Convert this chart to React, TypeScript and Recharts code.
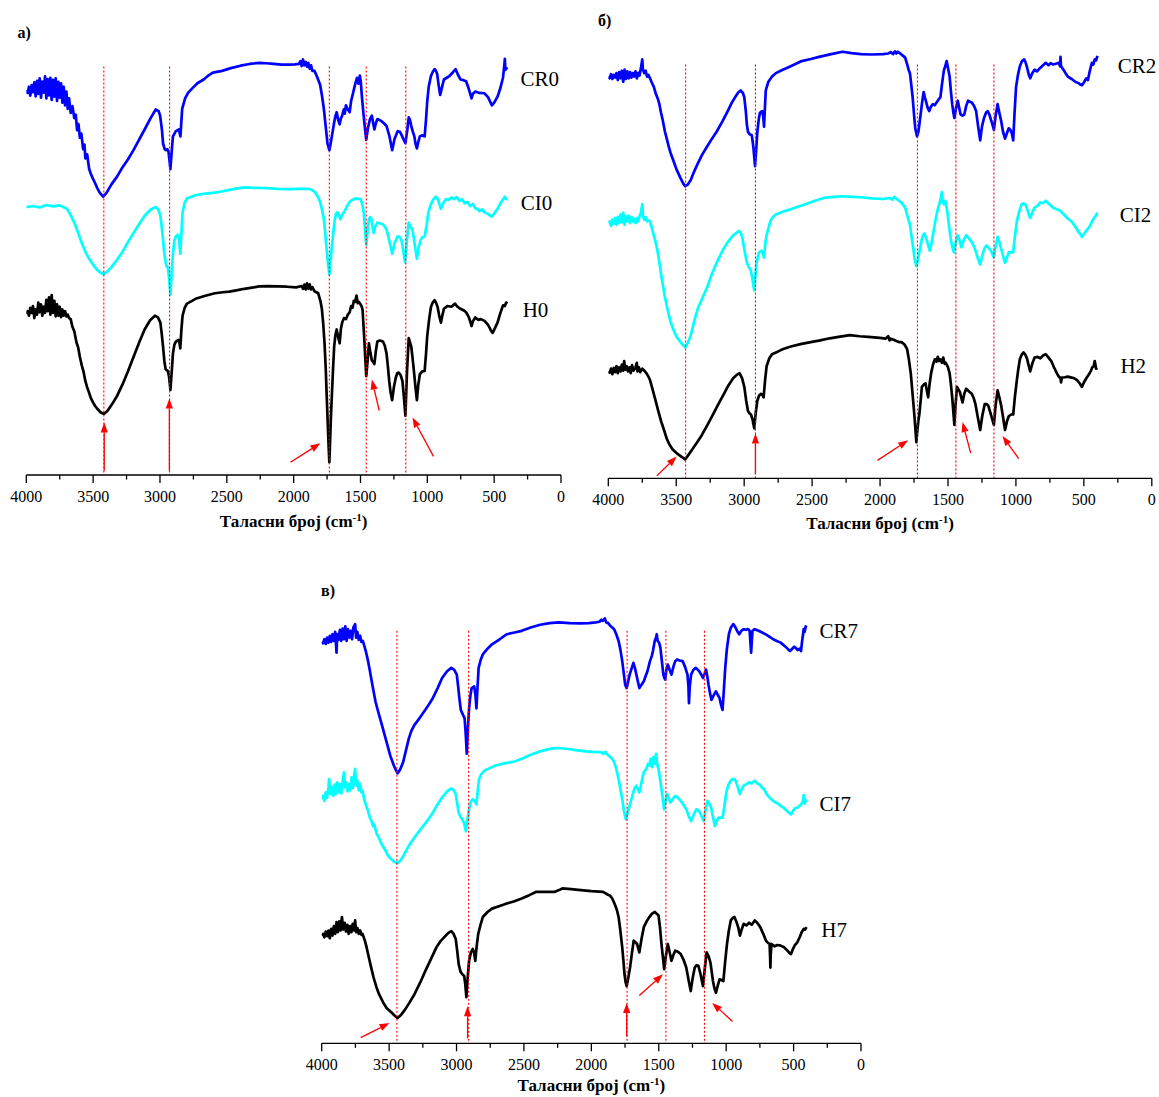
import React from 'react';
import { LineChart, Line, XAxis, YAxis, ReferenceLine, ReferenceDot } from 'recharts';

// ---------- data: [wavenumber (cm-1), transmittance (a.u., offset)] ----------
const CR0: [number, number][] = [
[4000,1117],[3990,1108],[3980,1126],[3970,1100],[3960,1131],[3950,1110],[3940,1139],[3930,1098],[3920,1143],[3910,1105],[3900,1150],[3890,1094],[3880,1141],[3870,1109],[3860,1156],[3850,1092],[3840,1148],[3830,1101],[3820,1152],[3810,1088],[3800,1146],[3790,1097],[3780,1150],[3770,1085],[3760,1140],[3750,1094],[3740,1136],[3730,1080],[3720,1126],[3710,1072],[3700,1112],[3690,1062],[3680,1092],[3668,1050],[3655,1070],[3641,1035],[3630,1045],[3620,1000],[3610,1018],[3599,978],[3588,990],[3575,945],[3565,958],[3558,918],[3545,930],[3530,888],[3516,872],[3500,858],[3485,846],[3469,832],[3450,818],[3425,807],[3400,818],[3364,842],[3320,866],[3281,892],[3240,915],[3198,942],[3160,970],[3115,1002],[3070,1035],[3032,1060],[3010,1055],[2999,1042],[2985,1000],[2977,962],[2965,945],[2958,942],[2945,945],[2936,937],[2922,887],[2912,940],[2903,982],[2881,997],[2859,1002],[2847,982],[2834,1062],[2812,1092],[2790,1108],[2757,1122],[2720,1136],[2673,1147],[2640,1158],[2604,1167],[2535,1172],[2470,1180],[2397,1187],[2330,1192],[2259,1195],[2203,1194],[2150,1192],[2093,1190],[2040,1190],[1990,1191],[1960,1192],[1950,1200],[1940,1186],[1930,1205],[1920,1188],[1910,1198],[1900,1184],[1890,1195],[1880,1178],[1870,1188],[1860,1172],[1844,1172],[1825,1155],[1802,1132],[1788,1100],[1774,1062],[1760,1010],[1747,962],[1733,942],[1724,960],[1714,982],[1697,1022],[1688,1040],[1678,1052],[1667,1030],[1656,1017],[1646,1035],[1637,1042],[1625,1060],[1618,1048],[1609,1072],[1595,1060],[1581,1052],[1570,1085],[1560,1100],[1553,1112],[1545,1125],[1535,1140],[1526,1152],[1515,1135],[1505,1158],[1498,1142],[1490,1100],[1479,1052],[1468,1010],[1457,972],[1445,1005],[1429,1032],[1415,1042],[1405,1020],[1396,1002],[1385,1020],[1374,1032],[1360,1030],[1346,1027],[1325,1020],[1305,1012],[1285,985],[1263,942],[1245,975],[1222,997],[1205,995],[1194,987],[1180,975],[1164,962],[1150,1000],[1139,1037],[1130,1030],[1120,1012],[1108,995],[1097,982],[1088,960],[1078,947],[1068,965],[1056,982],[1040,985],[1020,982],[1010,1030],[1001,1082],[990,1125],[973,1157],[958,1170],[945,1177],[935,1172],[926,1162],[915,1130],[904,1102],[890,1125],[876,1147],[855,1152],[835,1157],[815,1165],[800,1172],[788,1177],[770,1160],[752,1147],[730,1145],[710,1142],[690,1120],[675,1100],[669,1092],[660,1105],[641,1112],[610,1108],[572,1107],[545,1095],[517,1072],[500,1080],[475,1097],[455,1120],[434,1152],[425,1185],[420,1207],[416,1175],[410,1180],[400,1177]
];
const CI0: [number, number][] = [
[4000,777],[3950,780],[3900,776],[3850,783],[3800,779],[3750,782],[3720,776],[3696,772],[3670,755],[3641,732],[3610,700],[3585,672],[3555,645],[3530,627],[3500,610],[3475,597],[3450,588],[3420,582],[3395,590],[3364,602],[3320,625],[3281,647],[3240,675],[3198,702],[3155,728],[3115,752],[3070,770],[3032,777],[3012,770],[2997,752],[2987,720],[2977,682],[2968,645],[2958,617],[2950,605],[2941,602],[2932,570],[2922,522],[2913,580],[2903,642],[2892,680],[2881,692],[2867,697],[2857,680],[2848,642],[2840,700],[2831,762],[2815,790],[2798,802],[2760,808],[2728,812],[2660,816],[2590,819],[2530,823],[2480,827],[2420,831],[2369,834],[2300,833],[2203,832],[2120,830],[2037,829],[1960,830],[1899,830],[1870,828],[1844,822],[1820,808],[1802,792],[1788,770],[1774,742],[1765,705],[1755,662],[1745,620],[1733,582],[1724,620],[1714,662],[1703,705],[1692,742],[1682,758],[1672,762],[1660,752],[1650,742],[1637,755],[1623,762],[1600,780],[1581,792],[1560,798],[1540,802],[1520,801],[1498,800],[1487,785],[1476,762],[1466,715],[1457,667],[1447,705],[1437,742],[1428,748],[1421,747],[1412,725],[1402,702],[1390,720],[1374,732],[1355,730],[1332,727],[1318,720],[1305,712],[1285,680],[1263,642],[1245,672],[1222,692],[1208,690],[1194,682],[1180,650],[1167,617],[1153,680],[1139,732],[1125,720],[1111,712],[1095,670],[1078,627],[1065,660],[1050,682],[1035,690],[1020,692],[1005,725],[992,762],[978,780],[965,792],[950,802],[937,807],[928,803],[918,797],[908,783],[898,772],[888,782],[876,792],[860,800],[840,798],[820,805],[800,800],[780,806],[760,795],[740,800],[720,788],[700,792],[680,780],[660,786],[640,773],[627,772],[610,765],[590,770],[572,762],[550,758],[530,752],[517,750],[500,758],[475,772],[450,790],[435,798],[420,807],[410,800],[401,802]
];
const H0: [number, number][] = [
[4000,467],[3990,475],[3980,462],[3970,485],[3960,470],[3950,490],[3940,455],[3930,480],[3920,465],[3910,500],[3900,472],[3890,495],[3880,462],[3870,488],[3860,470],[3850,508],[3840,475],[3830,515],[3820,465],[3810,522],[3800,470],[3790,505],[3780,460],[3770,495],[3760,462],[3750,488],[3740,458],[3730,480],[3720,462],[3710,475],[3700,460],[3690,465],[3680,455],[3668,452],[3655,430],[3641,417],[3625,385],[3612,370],[3599,342],[3585,318],[3572,300],[3558,272],[3545,255],[3530,238],[3516,222],[3500,210],[3485,200],[3469,192],[3445,182],[3420,177],[3395,185],[3364,202],[3320,230],[3281,262],[3240,300],[3198,342],[3155,385],[3115,422],[3075,448],[3038,462],[3015,457],[2997,442],[2987,410],[2977,372],[2967,330],[2958,307],[2950,304],[2941,302],[2932,285],[2922,247],[2912,300],[2903,352],[2892,378],[2881,387],[2862,392],[2855,385],[2848,367],[2840,420],[2831,462],[2815,485],[2798,497],[2760,505],[2728,512],[2660,520],[2590,527],[2530,530],[2480,532],[2420,536],[2369,540],[2300,544],[2259,547],[2190,548],[2120,547],[2050,546],[1982,544],[1940,548],[1930,540],[1920,552],[1910,538],[1900,556],[1890,540],[1880,553],[1871,538],[1860,545],[1845,533],[1830,530],[1816,527],[1800,505],[1789,482],[1779,440],[1769,382],[1760,310],[1753,232],[1745,150],[1738,80],[1733,37],[1728,90],[1722,160],[1714,232],[1705,310],[1697,372],[1688,405],[1678,422],[1667,400],[1656,382],[1646,425],[1637,442],[1623,455],[1609,452],[1595,465],[1581,472],[1570,490],[1560,485],[1550,505],[1540,502],[1530,520],[1520,498],[1512,502],[1500,495],[1490,488],[1484,477],[1477,430],[1470,382],[1463,330],[1457,287],[1447,330],[1437,382],[1426,355],[1415,332],[1405,328],[1396,322],[1385,360],[1374,387],[1355,390],[1332,387],[1318,375],[1305,352],[1295,315],[1285,272],[1275,240],[1263,217],[1250,255],[1236,282],[1225,295],[1214,297],[1200,290],[1186,272],[1175,225],[1164,172],[1152,300],[1139,397],[1130,385],[1120,372],[1112,345],[1103,312],[1090,260],[1078,217],[1068,260],[1056,292],[1040,300],[1020,302],[1010,350],[1001,402],[987,450],[973,487],[960,500],[945,507],[935,500],[923,487],[910,460],[898,442],[888,462],[876,482],[850,490],[820,488],[793,497],[775,488],[752,482],[730,478],[710,472],[690,458],[675,440],[669,432],[660,445],[641,457],[620,450],[600,452],[572,447],[545,435],[525,420],[511,412],[495,425],[475,442],[455,468],[434,492],[420,490],[410,500],[401,497]
];

const CR2: [number, number][] = [
[4000,1165],[3990,1160],[3980,1172],[3970,1158],[3960,1170],[3950,1162],[3940,1175],[3930,1155],[3920,1178],[3910,1160],[3900,1182],[3890,1150],[3880,1185],[3870,1158],[3860,1180],[3850,1160],[3840,1178],[3830,1162],[3820,1175],[3810,1165],[3800,1180],[3790,1160],[3780,1176],[3770,1168],[3760,1190],[3750,1215],[3745,1185],[3735,1175],[3725,1182],[3715,1165],[3705,1170],[3693,1160],[3680,1148],[3665,1135],[3650,1115],[3635,1100],[3624,1085],[3612,1060],[3600,1040],[3583,1005],[3570,985],[3555,962],[3543,945],[3520,920],[3497,895],[3470,872],[3450,856],[3434,847],[3415,852],[3393,865],[3370,888],[3339,915],[3310,938],[3284,955],[3245,980],[3203,1005],[3160,1035],[3121,1065],[3090,1090],[3067,1105],[3045,1118],[3026,1125],[3010,1118],[2999,1105],[2988,1065],[2980,1025],[2972,1005],[2960,998],[2944,995],[2932,960],[2920,905],[2912,950],[2903,1005],[2893,1040],[2884,1060],[2868,1065],[2860,1050],[2854,1020],[2848,1070],[2841,1125],[2822,1150],[2795,1165],[2767,1175],[2720,1184],[2686,1190],[2630,1200],[2577,1210],[2510,1216],[2441,1223],[2360,1230],[2277,1237],[2210,1233],[2141,1230],[2060,1229],[1978,1230],[1940,1232],[1920,1236],[1905,1230],[1890,1238],[1880,1232],[1869,1237],[1845,1230],[1830,1225],[1815,1220],[1800,1200],[1790,1185],[1780,1175],[1770,1140],[1760,1105],[1750,1055],[1741,1015],[1728,992],[1718,1005],[1711,1025],[1700,1060],[1692,1085],[1685,1105],[1679,1120],[1670,1105],[1660,1090],[1650,1075],[1638,1065],[1625,1078],[1611,1085],[1598,1082],[1584,1090],[1570,1098],[1556,1105],[1545,1140],[1535,1170],[1529,1185],[1520,1195],[1510,1210],[1500,1190],[1488,1165],[1478,1120],[1469,1085],[1460,1060],[1453,1045],[1440,1075],[1428,1095],[1418,1075],[1407,1055],[1393,1052],[1380,1055],[1366,1080],[1352,1095],[1338,1092],[1325,1090],[1308,1080],[1293,1065],[1278,1020],[1263,980],[1250,1020],[1235,1045],[1220,1060],[1208,1065],[1195,1055],[1184,1040],[1172,1025],[1162,1010],[1150,1050],[1135,1085],[1122,1060],[1108,1035],[1095,1005],[1080,985],[1067,1000],[1053,1015],[1040,1010],[1030,1000],[1020,980],[1010,1060],[999,1135],[985,1170],[971,1195],[955,1210],[939,1215],[928,1205],[917,1190],[905,1170],[895,1160],[880,1175],[863,1185],[845,1180],[822,1190],[800,1198],[781,1205],[760,1198],[745,1204],[727,1200],[700,1203],[685,1205],[675,1195],[672,1222],[668,1195],[650,1185],[635,1175],[618,1165],[590,1158],[563,1150],[540,1146],[525,1142],[514,1140],[500,1148],[482,1160],[470,1155],[460,1175],[441,1205],[430,1200],[420,1215],[410,1212],[400,1225]
];
const CI2: [number, number][] = [
[4000,740],[3990,745],[3980,732],[3970,750],[3960,738],[3950,755],[3940,735],[3930,758],[3920,740],[3910,765],[3900,742],[3890,770],[3880,735],[3870,760],[3860,745],[3850,762],[3840,740],[3830,758],[3820,745],[3810,752],[3800,740],[3790,755],[3780,745],[3770,760],[3760,770],[3750,795],[3745,760],[3735,750],[3725,758],[3715,745],[3705,748],[3693,745],[3672,715],[3652,685],[3638,660],[3624,625],[3605,575],[3583,525],[3563,488],[3543,455],[3520,430],[3497,410],[3465,393],[3434,380],[3415,392],[3393,415],[3365,460],[3339,495],[3305,525],[3271,555],[3240,590],[3203,625],[3160,660],[3121,685],[3080,705],[3040,717],[3025,712],[3012,695],[2995,655],[2980,625],[2965,612],[2953,605],[2940,580],[2926,545],[2917,590],[2909,625],[2898,645],[2890,655],[2871,660],[2862,650],[2854,640],[2845,680],[2835,705],[2808,745],[2790,757],[2767,765],[2710,774],[2659,780],[2600,788],[2550,795],[2480,805],[2414,813],[2340,816],[2277,818],[2200,816],[2141,815],[2060,812],[1978,810],[1930,813],[1910,808],[1895,816],[1883,812],[1860,805],[1840,798],[1815,785],[1798,760],[1780,735],[1768,700],[1755,665],[1745,635],[1733,615],[1722,632],[1711,655],[1700,678],[1692,695],[1683,705],[1673,710],[1662,698],[1652,685],[1642,670],[1633,660],[1622,680],[1611,705],[1598,735],[1584,765],[1570,788],[1560,800],[1552,815],[1545,830],[1538,800],[1529,795],[1520,805],[1510,785],[1502,765],[1492,730],[1480,695],[1468,670],[1456,655],[1442,685],[1428,705],[1415,690],[1401,670],[1385,690],[1366,705],[1345,695],[1325,685],[1308,672],[1293,655],[1278,635],[1263,620],[1245,650],[1230,668],[1216,675],[1200,668],[1184,660],[1172,650],[1162,640],[1150,672],[1135,700],[1122,685],[1108,665],[1095,645],[1080,625],[1066,640],[1053,655],[1035,656],[1020,655],[1008,700],[993,745],[975,775],[958,795],[945,797],[931,795],[915,778],[905,765],[895,755],[880,770],[863,785],[840,790],[820,800],[800,798],[781,805],[760,797],[745,792],[727,785],[700,780],[672,775],[640,762],[615,752],[590,745],[560,728],[540,715],[525,708],[514,700],[500,708],[483,718],[468,725],[455,732],[440,745],[425,755],[412,762],[400,770]
];
const H2: [number, number][] = [
[4000,310],[3990,306],[3980,318],[3970,302],[3960,320],[3950,308],[3940,325],[3930,305],[3920,322],[3910,310],[3900,330],[3890,312],[3883,340],[3875,315],[3865,325],[3855,310],[3845,322],[3835,305],[3825,328],[3815,312],[3801,320],[3790,335],[3785,310],[3775,322],[3765,308],[3750,318],[3735,312],[3720,305],[3706,296],[3693,285],[3672,255],[3652,225],[3632,195],[3611,165],[3590,140],[3570,115],[3550,98],[3529,85],[3510,78],[3488,70],[3460,62],[3434,55],[3410,68],[3380,85],[3345,105],[3312,125],[3270,155],[3230,185],[3190,215],[3149,245],[3115,270],[3081,290],[3055,300],[3034,305],[3015,290],[2999,265],[2985,225],[2972,195],[2960,188],[2950,185],[2938,170],[2926,145],[2915,190],[2903,225],[2890,240],[2876,245],[2866,242],[2857,235],[2846,285],[2835,325],[2815,348],[2795,360],[2750,368],[2713,375],[2650,383],[2577,390],[2510,395],[2441,400],[2370,406],[2305,410],[2223,415],[2150,412],[2087,410],[2000,407],[1960,405],[1940,412],[1930,400],[1924,405],[1900,402],[1880,398],[1860,395],[1842,395],[1820,388],[1801,375],[1788,345],[1774,305],[1763,255],[1752,205],[1742,155],[1733,105],[1725,140],[1717,170],[1711,185],[1700,230],[1692,265],[1678,272],[1665,275],[1656,255],[1646,235],[1635,275],[1624,305],[1610,330],[1597,345],[1585,338],[1575,352],[1565,340],[1556,345],[1545,335],[1535,350],[1525,332],[1516,335],[1500,322],[1488,305],[1478,270],[1469,235],[1461,195],[1453,155],[1445,210],[1434,265],[1423,258],[1412,250],[1403,235],[1393,220],[1380,245],[1366,260],[1345,252],[1325,245],[1310,232],[1298,215],[1282,180],[1263,140],[1248,180],[1230,215],[1215,215],[1203,210],[1194,198],[1184,185],[1172,168],[1162,155],[1150,210],[1135,255],[1122,235],[1108,210],[1095,178],[1080,140],[1066,165],[1053,180],[1035,185],[1020,185],[1008,235],[993,285],[982,318],[971,345],[958,358],[944,365],[930,358],[917,345],[905,325],[895,310],[880,332],[863,350],[840,352],[820,348],[800,356],[781,360],[760,350],[740,340],[720,322],[699,305],[685,295],[672,290],[668,278],[662,292],[640,293],[618,295],[590,292],[570,290],[550,285],[530,275],[514,265],[500,278],[482,290],[465,300],[450,310],[438,322],[427,325],[420,340],[410,318],[400,320]
];

const CR7: [number, number][] = [
[4000,1193],[3990,1188],[3980,1200],[3970,1186],[3960,1205],[3950,1190],[3940,1210],[3930,1192],[3920,1215],[3910,1195],[3900,1222],[3890,1160],[3885,1215],[3875,1198],[3865,1228],[3855,1195],[3845,1232],[3835,1200],[3825,1238],[3815,1195],[3805,1230],[3795,1205],[3785,1225],[3775,1200],[3765,1235],[3752,1245],[3745,1205],[3735,1222],[3725,1198],[3715,1210],[3705,1192],[3695,1195],[3684,1180],[3670,1160],[3656,1135],[3642,1105],[3629,1075],[3615,1045],[3601,1015],[3588,995],[3574,975],[3553,945],[3533,915],[3512,885],[3492,855],[3465,825],[3450,812],[3437,802],[3420,812],[3396,835],[3375,870],[3354,905],[3335,928],[3313,945],[3285,960],[3258,975],[3215,1000],[3176,1025],[3140,1055],[3107,1085],[3070,1105],[3039,1115],[3018,1110],[2998,1095],[2988,1060],[2979,1025],[2968,990],[2957,980],[2948,972],[2940,965],[2932,920],[2924,860],[2916,930],[2907,995],[2898,1030],[2888,1055],[2869,1060],[2860,1035],[2852,995],[2844,1060],[2836,1115],[2820,1140],[2805,1155],[2770,1172],[2737,1185],[2680,1200],[2627,1215],[2570,1220],[2517,1225],[2450,1235],[2380,1243],[2310,1248],[2243,1250],[2160,1248],[2078,1247],[2020,1248],[1968,1250],[1940,1252],[1925,1258],[1913,1255],[1900,1262],[1890,1250],[1875,1248],[1860,1240],[1845,1235],[1831,1230],[1815,1215],[1798,1195],[1785,1170],[1771,1135],[1760,1100],[1749,1065],[1738,1055],[1727,1075],[1716,1095],[1700,1115],[1688,1130],[1677,1115],[1666,1095],[1655,1075],[1644,1055],[1628,1065],[1611,1075],[1598,1090],[1584,1105],[1565,1135],[1552,1150],[1543,1165],[1530,1195],[1520,1205],[1515,1215],[1508,1195],[1498,1190],[1488,1175],[1477,1135],[1466,1095],[1458,1085],[1452,1080],[1443,1110],[1433,1125],[1420,1110],[1406,1095],[1390,1120],[1378,1135],[1364,1140],[1345,1137],[1323,1135],[1305,1118],[1287,1095],[1280,1060],[1276,1010],[1270,1060],[1260,1095],[1245,1108],[1227,1115],[1212,1110],[1200,1105],[1185,1095],[1172,1085],[1160,1098],[1150,1110],[1140,1090],[1131,1065],[1120,1040],[1109,1020],[1095,1032],[1076,1045],[1062,1035],[1049,1025],[1038,1005],[1027,990],[1017,1050],[1007,1115],[995,1170],[980,1215],[965,1235],[947,1245],[935,1238],[925,1230],[912,1220],[903,1215],[888,1225],[870,1230],[855,1228],[837,1230],[826,1225],[820,1190],[815,1160],[810,1195],[805,1225],[788,1230],[760,1225],[733,1220],[700,1213],[680,1208],[651,1200],[625,1195],[596,1190],[560,1178],[540,1170],[527,1165],[510,1172],[495,1178],[486,1175],[470,1168],[455,1172],[445,1165],[438,1190],[430,1215],[425,1230],[418,1222],[410,1238],[404,1235]
];
const CI7: [number, number][] = [
[4000,725],[3990,735],[3980,720],[3970,745],[3960,728],[3950,760],[3945,785],[3935,740],[3925,762],[3915,735],[3905,768],[3895,740],[3885,775],[3875,745],[3865,770],[3855,742],[3845,778],[3835,805],[3828,760],[3818,775],[3808,748],[3798,770],[3788,752],[3778,790],[3768,758],[3760,795],[3752,815],[3745,765],[3735,780],[3725,752],[3715,770],[3705,745],[3697,750],[3685,725],[3670,705],[3656,690],[3643,670],[3630,660],[3620,645],[3610,650],[3601,635],[3590,620],[3575,610],[3560,595],[3546,585],[3530,575],[3515,562],[3492,550],[3465,540],[3437,535],[3418,542],[3396,555],[3370,575],[3341,595],[3300,618],[3258,640],[3215,662],[3176,685],[3140,710],[3107,730],[3070,748],[3039,757],[3022,752],[3006,740],[2995,712],[2984,685],[2970,672],[2957,665],[2945,655],[2930,630],[2918,668],[2907,695],[2893,718],[2880,725],[2866,720],[2852,710],[2843,750],[2833,785],[2815,800],[2792,810],[2750,818],[2710,825],[2640,832],[2572,837],[2515,845],[2462,855],[2410,863],[2353,870],[2300,875],[2243,877],[2170,874],[2105,870],[2040,867],[1968,865],[1930,865],[1910,860],[1895,866],[1886,860],[1860,850],[1845,845],[1831,835],[1815,815],[1798,785],[1785,755],[1771,725],[1758,690],[1744,665],[1730,685],[1716,705],[1700,730],[1686,750],[1676,760],[1666,765],[1655,755],[1644,745],[1628,775],[1611,805],[1592,815],[1580,830],[1570,825],[1560,845],[1550,820],[1540,850],[1529,830],[1520,860],[1510,825],[1502,815],[1492,790],[1480,755],[1470,725],[1460,695],[1450,720],[1438,740],[1426,728],[1414,715],[1398,725],[1378,735],[1358,730],[1337,720],[1316,708],[1296,695],[1278,675],[1260,660],[1240,680],[1221,695],[1206,692],[1194,685],[1180,672],[1167,660],[1152,695],[1139,720],[1126,712],[1112,700],[1098,672],[1084,645],[1070,660],[1057,670],[1040,670],[1027,670],[1013,705],[999,745],[983,768],[966,780],[952,785],[939,785],[928,778],[917,765],[908,752],[898,740],[885,755],[870,765],[850,770],[830,775],[810,772],[788,780],[770,772],[750,768],[735,760],[719,755],[700,740],[680,730],[665,725],[651,720],[635,715],[615,712],[596,705],[575,700],[555,692],[535,685],[519,680],[505,690],[490,698],[472,700],[455,705],[440,712],[430,720],[425,737],[418,712],[410,722],[404,715]
];
const H7: [number, number][] = [
[4000,320],[3990,325],[3980,315],[3970,332],[3960,318],[3950,335],[3940,312],[3930,340],[3920,320],[3910,348],[3900,325],[3890,360],[3880,330],[3870,362],[3860,335],[3850,375],[3840,338],[3830,358],[3820,332],[3810,352],[3800,325],[3790,348],[3780,330],[3770,355],[3760,335],[3752,365],[3745,330],[3735,342],[3725,325],[3715,335],[3705,322],[3697,325],[3680,305],[3670,290],[3656,265],[3636,230],[3615,195],[3595,168],[3574,145],[3545,122],[3519,105],[3498,97],[3478,90],[3458,82],[3437,75],[3410,85],[3382,100],[3350,120],[3313,145],[3270,180],[3231,215],[3190,250],[3149,285],[3115,305],[3080,320],[3060,328],[3039,333],[3022,325],[3006,310],[2995,275],[2984,235],[2970,212],[2957,205],[2943,200],[2935,175],[2927,137],[2917,195],[2907,245],[2893,270],[2880,280],[2870,270],[2861,245],[2850,290],[2839,325],[2820,355],[2805,375],[2770,390],[2737,400],[2680,408],[2627,415],[2570,422],[2517,430],[2460,440],[2408,450],[2340,450],[2270,450],[2240,455],[2215,460],[2150,458],[2078,455],[2000,452],[1913,450],[1880,442],[1860,438],[1845,430],[1825,412],[1810,395],[1798,375],[1785,335],[1771,285],[1762,245],[1754,205],[1745,180],[1738,170],[1726,195],[1713,225],[1700,265],[1686,305],[1673,300],[1661,295],[1652,282],[1644,270],[1628,310],[1611,345],[1590,362],[1570,375],[1550,385],[1529,390],[1515,385],[1502,380],[1491,345],[1480,295],[1470,258],[1460,220],[1447,260],[1433,295],[1420,272],[1406,245],[1392,262],[1378,275],[1358,272],[1337,265],[1316,248],[1296,225],[1280,190],[1263,155],[1248,195],[1233,225],[1220,232],[1206,230],[1190,205],[1180,185],[1172,170],[1158,225],[1145,270],[1130,258],[1117,240],[1108,215],[1098,185],[1088,165],[1076,150],[1062,172],[1049,190],[1035,188],[1021,185],[1008,240],[994,295],[980,335],[966,365],[952,372],[939,375],[925,362],[911,345],[898,320],[885,338],[870,355],[850,350],[830,358],[810,352],[788,365],[770,358],[747,345],[725,325],[705,305],[690,298],[678,295],[674,255],[672,225],[670,260],[664,295],[640,288],[620,292],[596,290],[570,285],[545,275],[530,268],[519,265],[505,280],[490,292],[472,300],[455,315],[440,330],[425,340],[415,338],[404,345]
];

// band positions (cm-1) marked with dotted lines
const BANDS_A = [3420, 2928, 1733, 1457, 1161];
const BANDS_B = [3431, 2917, 1725, 1442, 1162];
const BANDS_C = [3442, 2910, 1735, 1447, 1161];

// arrows: [tail wn, tail T, head wn, head T]
const ARROWS_A: [number, number, number, number][] = [
  [3417, 12, 3417, 152], [2930, 12, 2930, 222], [2024, 37, 1800, 92], [1360, 187, 1415, 277], [954, 54, 1111, 167],
];
const ARROWS_B: [number, number, number, number][] = [
  [3643, 7, 3497, 63], [2917, 13, 2917, 130], [2019, 52, 1793, 110], [1333, 73, 1393, 163], [980, 57, 1099, 123],
];
const ARROWS_C: [number, number, number, number][] = [
  [3711, 17, 3497, 60], [2918, 15, 2918, 110], [1738, 20, 1738, 120], [1644, 142, 1469, 205], [953, 65, 1104, 120],
];

const X_TICKS = [0, 250, 500, 750, 1000, 1250, 1500, 1750, 2000, 2250, 2500, 2750, 3000, 3250, 3500, 3750, 4000];
const TITLE = 'Таласни број (cm';

const FONT = '"Liberation Serif", "Times New Roman", serif';
const BLUE = '#0000ff';
const CYAN = '#00ffff';
const BLACK = '#000000';
const RED = '#ff0000';

type Series = { name: string; data: [number, number][]; color: string; labelWn: number; labelT: number };

type Panel = {
  letter: string;
  left: number; top: number; width: number; height: number;
  margin: { top: number; right: number; bottom: number; left: number };
  axisH: number; yMax: number; titleOffset: number;
  series: Series[];
  bands: number[]; bandTop: number;
  arrows: [number, number, number, number][];
};

const PANELS: Panel[] = [
  {
    letter: 'a', left: 0, top: 0, width: 600, height: 540,
    margin: { top: 35, right: 39, bottom: 5, left: 26.3 }, axisH: 60, yMax: 1276, titleOffset: 52,
    series: [
      { name: 'CR0', data: CR0, color: BLUE, labelWn: 303, labelT: 1128 },
      { name: 'CI0', data: CI0, color: CYAN, labelWn: 301, labelT: 769 },
      { name: 'H0', data: H0, color: BLACK, labelWn: 287, labelT: 459 },
    ],
    bands: BANDS_A, bandTop: 1185, arrows: ARROWS_A,
  },
  {
    letter: 'b', left: 580, top: 0, width: 579, height: 540,
    margin: { top: 35, right: 7.2, bottom: 6.7, left: 28.3 }, axisH: 55, yMax: 1285.6, titleOffset: 51,
    series: [
      { name: 'CR2', data: CR2, color: BLUE, labelWn: 250, labelT: 1174 },
      { name: 'CI2', data: CI2, color: CYAN, labelWn: 236, labelT: 744 },
      { name: 'H2', data: H2, color: BLACK, labelWn: 231, labelT: 306 },
    ],
    bands: BANDS_B, bandTop: 1200, arrows: ARROWS_B,
  },
  {
    letter: 'c', left: 300, top: 570, width: 580, height: 527,
    margin: { top: 30, right: 19, bottom: 3.7, left: 21.7 }, axisH: 50, yMax: 1316.6, titleOffset: 48,
    series: [
      { name: 'CR7', data: CR7, color: BLUE, labelWn: 308, labelT: 1204 },
      { name: 'CI7', data: CI7, color: CYAN, labelWn: 308, labelT: 691 },
      { name: 'H7', data: H7, color: BLACK, labelWn: 294, labelT: 317 },
    ],
    bands: BANDS_C, bandTop: 1225, arrows: ARROWS_C,
  },
];

const toPoints = (arr: [number, number][]) => arr.map(([wn, t]) => ({ wn, t }));

const AxisTick = (props: any) => {
  const { x, y, payload } = props;
  const major = payload.value % 500 === 0;
  return (
    <g>
      <line x1={x} x2={x} y1={y} y2={y + (major ? 8 : 4.5)} stroke="#000" strokeWidth={1.3} />
      {major && (
        <text x={x} y={y + 27} textAnchor="middle" fontFamily={FONT} fontSize={16} fill="#000">
          {payload.value}
        </text>
      )}
    </g>
  );
};

const makeTitle = (offset: number) => (props: any) => {
  const vb = props.viewBox || {};
  const cx = vb.x + vb.width / 2;
  const y = vb.y + offset;
  return (
    <text x={cx} y={y} textAnchor="middle" fontFamily={FONT} fontWeight="bold" fontSize={17} fill="#000">
      {TITLE}
      <tspan dy={-6} fontSize={11}>-1</tspan>
      <tspan dy={6}>)</tspan>
    </text>
  );
};

const ArrowShape = (props: any) => {
  const { x1, y1, x2, y2 } = props;
  if ([x1, y1, x2, y2].some((v) => typeof v !== 'number' || isNaN(v))) return <g />;
  const dx = x2 - x1;
  const dy = y2 - y1;
  const len = Math.sqrt(dx * dx + dy * dy) || 1;
  const ux = dx / len;
  const uy = dy / len;
  const hl = 10;
  const hw = 3.6;
  const bx = x2 - ux * hl;
  const by = y2 - uy * hl;
  const pts = `${x2},${y2} ${bx - uy * hw},${by + ux * hw} ${bx + uy * hw},${by - ux * hw}`;
  return (
    <g>
      <line x1={x1} y1={y1} x2={bx} y2={by} stroke={RED} strokeWidth={1.3} />
      <polygon points={pts} fill={RED} stroke="none" />
    </g>
  );
};

const makeLabel = (text: string) => (props: any) => (
  <text x={props.cx} y={props.cy} fontFamily={FONT} fontSize={21} fill="#000">
    {text}
  </text>
);

const PanelChart = ({ p }: { p: Panel }) => (
  <div style={{ position: 'absolute', left: p.left, top: p.top, width: p.width, height: p.height }}>
    <LineChart width={p.width} height={p.height} margin={p.margin}>
      <XAxis
        type="number"
        dataKey="wn"
        domain={[0, 4000]}
        reversed
        allowDataOverflow
        ticks={X_TICKS}
        interval={0}
        tickSize={0}
        tickMargin={0}
        tickLine={false}
        tick={(tp: any) => <AxisTick {...tp} />}
        axisLine={{ stroke: '#000', strokeWidth: 1.3 }}
        height={p.axisH}
        label={makeTitle(p.titleOffset)}
      />
      <YAxis hide type="number" dataKey="t" domain={[0, p.yMax]} allowDataOverflow />
      {p.series.map((s) => (
        <Line
          key={s.name}
          data={toPoints(s.data)}
          dataKey="t"
          type="linear"
          stroke={s.color}
          strokeWidth={2.7}
          strokeLinejoin="round"
          dot={false}
          activeDot={false}
          isAnimationActive={false}
        />
      ))}
      {p.bands.map((b) => (
        <ReferenceLine
          key={'band' + b}
          segment={[{ x: b, y: p.bandTop }, { x: b, y: 0 }]}
          stroke={RED}
          strokeWidth={1.1}
          strokeDasharray="2 2"
          ifOverflow="visible"
        />
      ))}
      {p.arrows.map((a, i) => (
        <ReferenceLine
          key={'arrow' + i}
          segment={[{ x: a[0], y: a[1] }, { x: a[2], y: a[3] }]}
          shape={ArrowShape}
          ifOverflow="visible"
        />
      ))}
      {p.series.map((s) => (
        <ReferenceDot
          key={'lbl' + s.name}
          x={s.labelWn}
          y={s.labelT}
          r={1}
          ifOverflow="visible"
          shape={makeLabel(s.name)}
        />
      ))}
    </LineChart>
  </div>
);

const PANEL_LETTERS = [
  { text: 'а)', x: 17.5, y: 38 },
  { text: 'б)', x: 598, y: 26 },
  { text: 'в)', x: 321, y: 596 },
];

export default function App() {
  return (
    <div style={{ position: 'absolute', left: 0, top: 0, width: 1159, height: 1097, background: '#fff', overflow: 'hidden' }}>
      {PANELS.map((p) => (
        <PanelChart key={p.letter} p={p} />
      ))}
      <svg width={1159} height={1097} style={{ position: 'absolute', left: 0, top: 0, pointerEvents: 'none' }}>
        {PANEL_LETTERS.map((l) => (
          <text key={l.text} x={l.x} y={l.y} fontFamily={FONT} fontWeight="bold" fontSize={16} fill="#000">
            {l.text}
          </text>
        ))}
      </svg>
    </div>
  );
}
